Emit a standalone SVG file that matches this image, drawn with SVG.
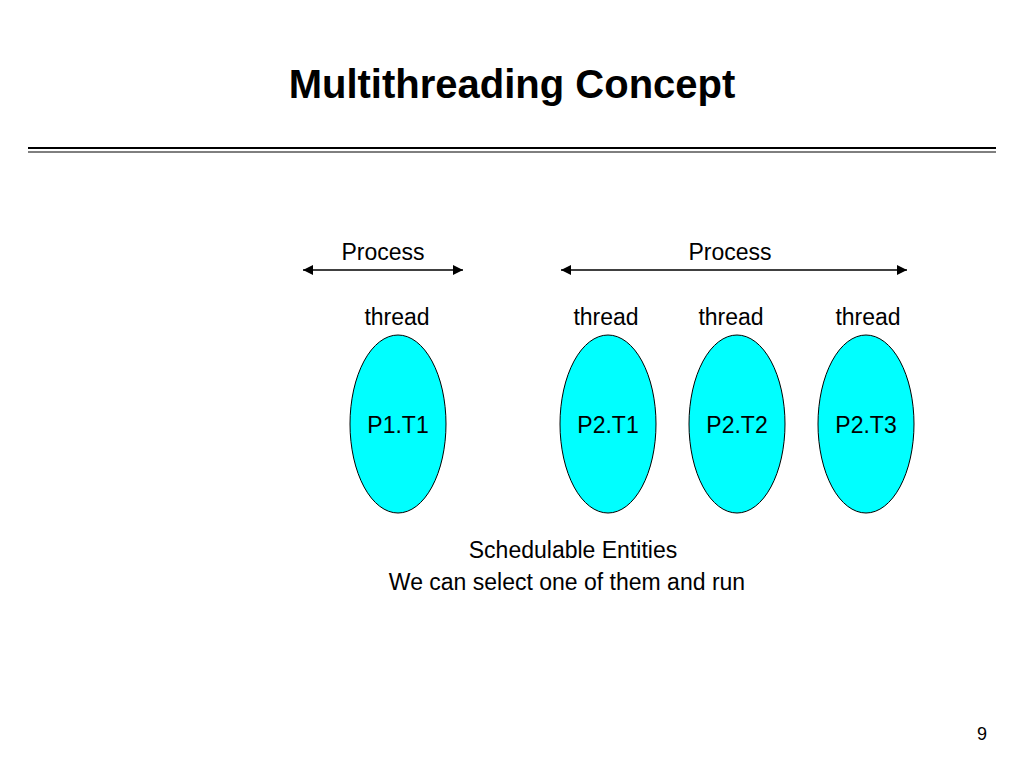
<svg xmlns="http://www.w3.org/2000/svg" width="1024" height="768" viewBox="0 0 1024 768">
<style>
text{font-family:"Liberation Sans",Arial,sans-serif;fill:#000}
.l{font-size:23px;text-anchor:middle}
.e{fill:#00ffff;stroke:#000;stroke-width:1}
</style>
<defs><marker id="a" viewBox="0 0 10 10" refX="10" refY="5" markerWidth="12" markerHeight="10" markerUnits="userSpaceOnUse" orient="auto-start-reverse"><path d="M0,0L10,5L0,10z" fill="#000"/></marker></defs>
<rect width="1024" height="768" fill="#fff"/>
<text x="512" y="98" font-size="40" font-weight="bold" text-anchor="middle">Multithreading Concept</text>
<line x1="28" y1="148" x2="996" y2="148" stroke="#000" stroke-width="2"/>
<line x1="28" y1="152" x2="996" y2="152" stroke="#000" stroke-width="1"/>
<g id="connectors" stroke="#000" stroke-width="1.5">
<line x1="303" y1="270" x2="463" y2="270" marker-start="url(#a)" marker-end="url(#a)"/>
<line x1="561" y1="270" x2="907" y2="270" marker-start="url(#a)" marker-end="url(#a)"/>
</g>
<text class="l" x="383" y="260">Process</text>
<text class="l" x="730" y="260">Process</text>
<g id="t1"><text class="l" x="397" y="325">thread</text><ellipse class="e" cx="398" cy="424" rx="48" ry="89"/><text class="l" x="398" y="433">P1.T1</text></g>
<g id="t2"><text class="l" x="606" y="325">thread</text><ellipse class="e" cx="608" cy="424" rx="48" ry="89"/><text class="l" x="608" y="433">P2.T1</text></g>
<g id="t3"><text class="l" x="731" y="325">thread</text><ellipse class="e" cx="737" cy="424" rx="48" ry="89"/><text class="l" x="737" y="433">P2.T2</text></g>
<g id="t4"><text class="l" x="868" y="325">thread</text><ellipse class="e" cx="866" cy="424" rx="48" ry="89"/><text class="l" x="866" y="433">P2.T3</text></g>
<text class="l" x="573" y="558">Schedulable Entities</text>
<text class="l" x="567" y="590">We can select one of them and run</text>
<text x="982" y="740" font-size="18" text-anchor="middle">9</text>
</svg>
